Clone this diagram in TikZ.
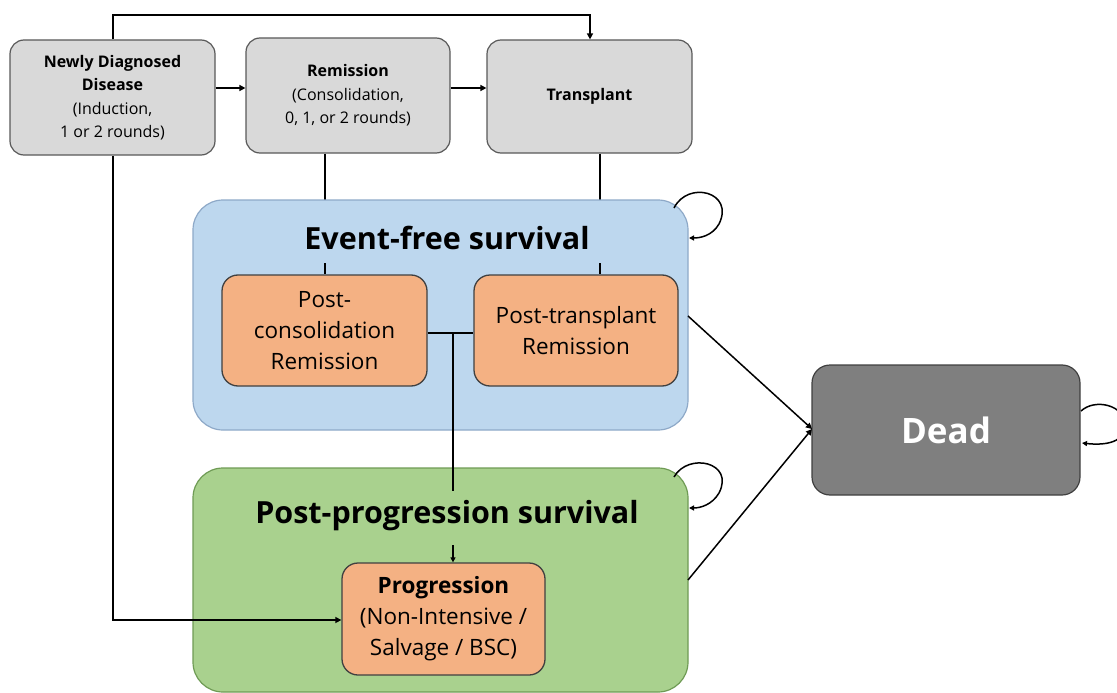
\documentclass[tikz,border=0pt]{standalone}
\usepackage{fontspec}
\setmainfont{Open Sans}
\usetikzlibrary{arrows.meta}
\definecolor{grayfill}{HTML}{D9D9D9}
\definecolor{graydraw}{HTML}{595959}
\definecolor{bluefill}{HTML}{BDD7EE}
\definecolor{bluedraw}{HTML}{8EA9C8}
\definecolor{greenfill}{HTML}{A9D18E}
\definecolor{greendraw}{HTML}{6F9B55}
\definecolor{orangefill}{HTML}{F4B183}
\definecolor{orangedraw}{HTML}{404040}
\definecolor{deadfill}{HTML}{7F7F7F}
\tikzset{
  topbox/.style={draw=graydraw, fill=grayfill, line width=1.2pt, rounded corners=14pt,
    align=center, font=\fontsize{16}{23.5}\selectfont, inner sep=0pt},
  bigbox/.style={rounded corners=30pt, line width=1.2pt, inner sep=0pt},
  orbox/.style={draw=orangedraw, fill=orangefill, line width=1.3pt, rounded corners=16pt,
    align=center, font=\fontsize{22.5}{31}\selectfont, inner sep=0pt},
  conn/.style={line width=2.4pt, black},
  thin/.style={line width=1.5pt, black},
  tip/.style={-{Triangle[length=6pt,width=6pt]}},
  stip/.style={-{Triangle[length=5pt,width=5pt]}}
}
\begin{document}
\begin{tikzpicture}[x=1pt,y=-1pt]
\useasboundingbox (0,0) rectangle (1117,693);
\clip (0,0) rectangle (1117,693);
% top boxes
\node[topbox, minimum width=205pt, minimum height=115pt] (nd) at (112.5,97.5)
  {\textbf{Newly Diagnosed}\\\textbf{Disease}\\(Induction,\\1 or 2 rounds)};
\node[topbox, minimum width=204pt, minimum height=115pt] (rem) at (348,95.5)
  {\textbf{Remission}\\(Consolidation,\\0, 1, or 2 rounds)};
\node[topbox, minimum width=205pt, minimum height=113pt] (tr) at (589.5,96.5)
  {\textbf{Transplant}};
% connectors behind big boxes
\coordinate (c1) at (325,200);
\coordinate (c2) at (600,200);
\draw[conn] (rem.south -| c1) -- (c1);
\draw[conn] (tr.south -| c2) -- (c2);
\draw[conn, tip] (nd.east |- 0,88) -- (rem.west |- 0,88);
\draw[conn, tip] (rem.east |- 0,88) -- (tr.west |- 0,88);
\coordinate (t1) at (113,15);
\coordinate (t2) at (590,15);
\draw[conn, tip] (nd.north -| t1) -- (t1) -- (t2) -- (tr.north -| t2);
% big boxes
\node[bigbox, draw=bluedraw, fill=bluefill, minimum width=495pt, minimum height=230pt] (efs) at (440.5,315) {};
\node[bigbox, draw=greendraw, fill=greenfill, minimum width=495pt, minimum height=224pt] (pps) at (440.5,580) {};
\node[font=\fontsize{30.5}{34}\selectfont\bfseries] (efst) at (447,238) {Event-free survival};
\node[font=\fontsize{30.5}{34}\selectfont\bfseries] (ppst) at (447,516) {Post-progression survival};
% orange boxes
\node[orbox, minimum width=205pt, minimum height=111pt] (pc) at (324.5,330.5)
  {Post-\\consolidation\\Remission};
\node[orbox, minimum width=204pt, minimum height=111pt] (pt) at (576,330.5)
  {Post-transplant\\Remission};
\node[orbox, minimum width=203pt, minimum height=112pt] (prog) at (443.5,619)
  {\textbf{Progression}\\(Non-Intensive /\\Salvage / BSC)};
% dead
\node[draw=orangedraw, fill=deadfill, line width=1.2pt, rounded corners=18pt,
  minimum width=268pt, minimum height=130pt, text=white,
  font=\fontsize{35}{40}\selectfont\bfseries] (dead) at (946,430) {Dead};
% stubs
\coordinate (s1) at (325,263);
\coordinate (s2) at (600,263);
\draw[conn] (s1) -- (pc.north -| s1);
\draw[conn] (s2) -- (pt.north -| s2);
% junction
\coordinate (j) at (453,333);
\coordinate (jb) at (453,491);
\draw[conn] (pc.east |- j) -- (pt.west |- j);
\draw[conn] (j) -- (jb);
\coordinate (pa) at (453,545);
\draw[conn, stip] (pa) -- (prog.north -| pa);
% ND to progression
\coordinate (b1) at (113,620);
\draw[conn, tip] (nd.south -| b1) -- (b1) -- (prog.west |- b1);
% to dead
\coordinate (d1) at (688,316);
\coordinate (d2) at (688,580);
\coordinate (dt) at (812,429);
\draw[thin, tip] (d1) -- (dt);
\draw[thin, tip] (d2) -- (dt);
% self loops
\draw[thin, stip] (674,208) .. controls (688,180) and (735,192) .. (719,224)
  .. controls (712,236) and (700,238) .. (689,238);
\draw[thin, stip] (674,477) .. controls (688,452) and (735,462) .. (719,493)
  .. controls (712,505) and (700,508) .. (689,508);
\draw[thin, stip] (1081,411) .. controls (1095,398) and (1125,405) .. (1125,425)
  .. controls (1125,445) and (1100,445) .. (1082,443);
\end{tikzpicture}
\end{document}
